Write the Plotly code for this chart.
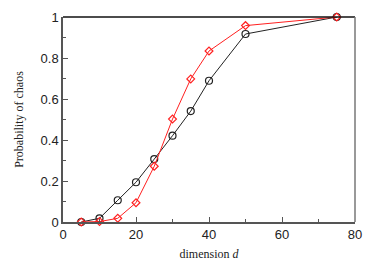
import plotly.graph_objects as go

d_black = [5, 10, 15, 20, 25, 30, 35, 40, 50, 75]
p_black = [0.0, 0.018, 0.106, 0.194, 0.307, 0.421, 0.541, 0.689, 0.917, 1.0]
d_red = [5, 10, 15, 20, 25, 30, 35, 40, 50, 75]
p_red = [0.0, 0.002, 0.018, 0.094, 0.272, 0.502, 0.698, 0.834, 0.958, 1.0]
x_ticks = [0, 20, 40, 60, 80]
y_ticks = [0, 0.2, 0.4, 0.6, 0.8, 1]
y_tick_text = ["0", "0.2", "0.4", "0.6", "0.8", "1"]

fig = go.Figure()
fig.add_trace(go.Scatter(x=d_black, y=p_black, mode="lines+markers",
                         line=dict(color="#222222", width=1),
                         marker=dict(symbol="circle-open", size=7, color="#222222", line=dict(width=1.2)),
                         showlegend=False, cliponaxis=False))
fig.add_trace(go.Scatter(x=d_red, y=p_red, mode="lines+markers",
                         line=dict(color="#ff2020", width=1),
                         marker=dict(symbol="diamond-open", size=6, color="#ff2020", line=dict(width=1.2)),
                         showlegend=False, cliponaxis=False))

axis_common = dict(showgrid=False, zeroline=False, showline=True, linecolor="#555555", linewidth=1.5,
                   ticks="inside", ticklen=5, tickcolor="#555555", tickwidth=1,
                   minor=dict(ticks="inside", ticklen=3, tickcolor="#555555"),
                   tickfont=dict(family="Liberation Sans, Arial", size=13, color="#222222"))

fig.update_xaxes(range=[0, 80], tickvals=x_ticks, minor_dtick=10, automargin=False,
                 title=dict(text="dimension <i>d</i>", font=dict(family="Liberation Serif, Times New Roman", size=12, color="#222222"), standoff=8),
                 **axis_common)
fig.update_yaxes(range=[0, 1], tickvals=y_ticks, ticktext=y_tick_text, minor_dtick=0.1, automargin=False,
                 title=dict(text="Probability of chaos", font=dict(family="Liberation Serif, Times New Roman", size=12, color="#222222"), standoff=14),
                 **axis_common)

fig.add_shape(type="line", xref="paper", yref="paper", x0=0, x1=1, y0=1, y1=1, line=dict(color="#111111", width=1.5))
fig.add_shape(type="line", xref="paper", yref="paper", x0=1, x1=1, y0=0, y1=1, line=dict(color="#777777", width=1.5))

fig.update_layout(width=366, height=263, margin=dict(l=55, r=19, t=9, b=49),
                  plot_bgcolor="white", paper_bgcolor="white")
fig.write_html("out.html")
